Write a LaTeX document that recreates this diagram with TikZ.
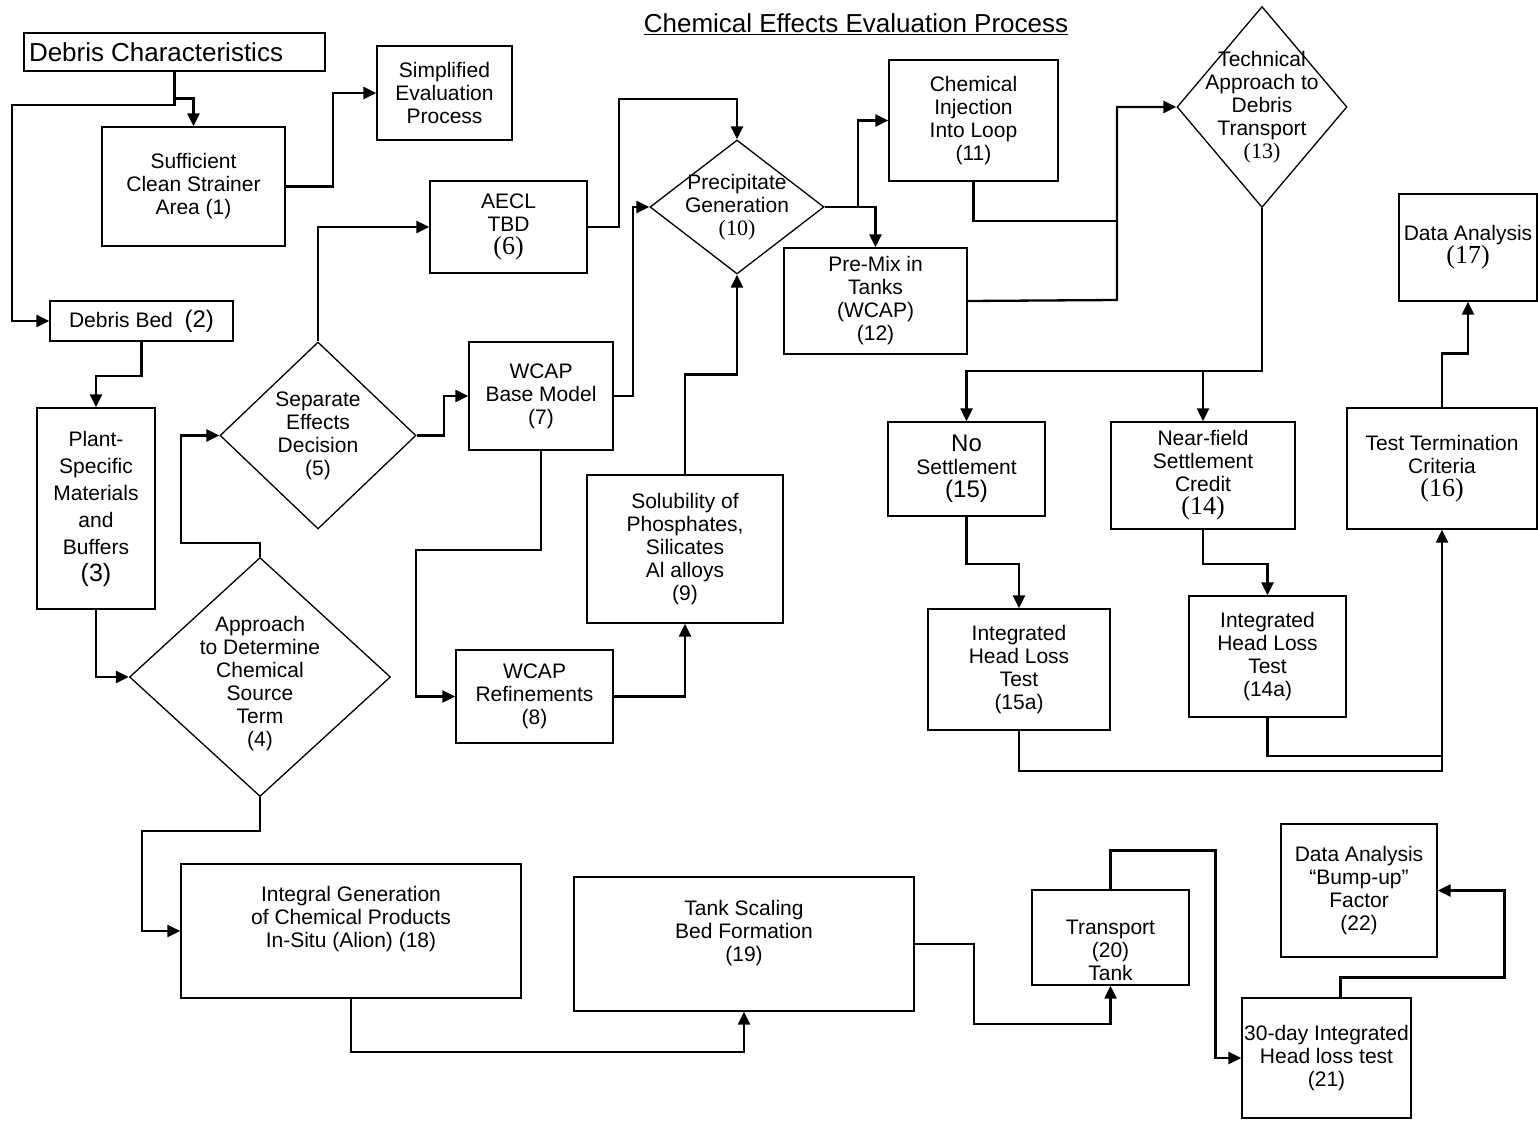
\documentclass[tikz,border=0pt]{standalone}
\usepackage{fontspec}
\setmainfont{Liberation Sans}
\newfontfamily\tnr{Liberation Serif}
\usetikzlibrary{shapes.geometric,arrows.meta}

\newcommand{\bnum}[1]{{\tnr\fontsize{26}{26}\selectfont #1}}
\newcommand{\snum}[1]{{\tnr\fontsize{22}{23}\selectfont #1}}

\begin{document}
\begin{tikzpicture}[x=1pt, y=-1pt,
    font=\fontsize{21}{23}\selectfont,
    >={Triangle[length=13pt,width=12pt]},
    box/.style={draw, line width=1.3pt, align=center, inner sep=1pt},
    dia/.style={draw, diamond, line width=1.3pt, inner sep=0pt},
    flow/.style={line width=2.3pt},
    txt/.style={align=center}]

    \useasboundingbox (0,0) rectangle (1538,1121);

    % Title
    \node (title) at (856,24) {\fontsize{26}{28}\selectfont\underline{Chemical Effects Evaluation Process}};

    % Debris side
    \node[box, minimum width=301, minimum height=38, text width=291, align=left] (char) at (174.5,52) {\fontsize{26}{28}\selectfont Debris Characteristics};
    \node[box, minimum width=183, minimum height=119] (clean) at (193.5,186.5) {Sufficient\\Clean Strainer\\Area (1)};
    \node[box, minimum width=135, minimum height=94] (simple) at (444.5,93) {Simplified\\Evaluation\\Process};
    \node[box, minimum width=183, minimum height=40] (bed) at (141.5,321) {Debris Bed\ \ {\fontsize{24}{24}\selectfont(2)}};
    \node[box, minimum width=118, minimum height=201, font=\fontsize{21}{27}\selectfont] (plant) at (96,508.5) {Plant-\\Specific\\Materials\\and\\Buffers\\{\fontsize{25}{31}\selectfont(3)}};

    % Decisions
    \node[dia, minimum width=261, minimum height=239, label={[txt,yshift=-7]center:Approach\\to Determine\\Chemical\\Source\\Term\\(4)}] (source) at (260,677) {};
    \node[dia, minimum width=196, minimum height=187, label={[txt]center:Separate\\Effects\\Decision\\(5)}] (sep) at (318,435.5) {};
    \node[dia, minimum width=174, minimum height=134, label={[txt]center:Precipitate\\Generation\\\snum{(10)}}] (precip) at (737,207) {};
    \node[dia, minimum width=170, minimum height=201, label={[txt]center:Technical\\Approach to\\Debris\\Transport\\\snum{(13)}}] (approach) at (1262,107) {};

    % Source term models
    \node[box, minimum width=157, minimum height=92] (aecl) at (508.5,227) {AECL\\TBD\\\bnum{(6)}};
    \node[box, minimum width=144, minimum height=108] (wbase) at (541,396) {WCAP\\Base Model\\(7)};
    \node[box, minimum width=157, minimum height=93] (wref) at (534.5,696.5) {WCAP\\Refinements\\(8)};
    \node[box, minimum width=196, minimum height=148] (solub) at (685,549) {Solubility of\\Phosphates,\\Silicates\\Al alloys\\(9)};

    % Chemicals and transport
    \node[box, minimum width=169, minimum height=121] (inject) at (973.5,120.5) {Chemical\\Injection\\Into Loop\\(11)};
    \node[box, minimum width=183, minimum height=106] (premix) at (875.5,301) {Pre-Mix in\\Tanks\\(WCAP)\\(12)};
    \node[box, minimum width=157, minimum height=94] (noset) at (966.5,469) {{\fontsize{24}{26}\selectfont No}\\Settlement\\{\fontsize{24}{26}\selectfont(15)}};
    \node[box, minimum width=184, minimum height=107] (nearf) at (1203,475.5) {Near-field\\Settlement\\Credit\\\bnum{(14)}};
    \node[box, minimum width=182, minimum height=121] (ihlno) at (1019,669.5) {Integrated\\Head Loss\\Test\\(15a)};
    \node[box, minimum width=157, minimum height=121] (ihlnear) at (1267.5,656.5) {Integrated\\Head Loss\\Test\\(14a)};
    \node[box, minimum width=190, minimum height=121] (term) at (1442,468.5) {Test Termination\\Criteria\\\bnum{(16)}};
    \node[box, minimum width=138, minimum height=107] (anal) at (1468,247.5) {Data Analysis\\\bnum{(17)}};

    % Integral tests
    \node[box, minimum width=340, minimum height=134, label={[txt,yshift=11.5]center:Integral Generation\\of Chemical Products\\In-Situ (Alion) (18)}] (insitu) at (351,931) {};
    \node[box, minimum width=340, minimum height=134, label={[txt,yshift=11]center:Tank Scaling\\Bed Formation\\(19)}] (scaling) at (744,944) {};
    \node[box, minimum width=157, minimum height=95, label={[txt,yshift=-13]center:Transport\\(20)\\Tank}] (tank) at (1110.5,937.5) {};
    \node[box, minimum width=169, minimum height=120] (thirty) at (1326.5,1058) {30-day Integrated\\Head loss test\\(21)};
    \node[box, minimum width=156, minimum height=133] (bump) at (1359,890.5) {Data Analysis\\“Bump-up”\\Factor\\(22)};

    % Connectors
    \coordinate (bus13) at (1117,300);
    \coordinate (bus16) at (1442,756);
    \draw[flow,->] (char.south) -- ++(0,27) -| (clean.north);
    \draw[flow,->] (char.south) |- (12,105) |- (bed.west);
    \draw[flow,->] (clean.east) -- ++(47,0) |- (simple.west);
    \draw[flow,->] (bed.south) -- ++(0,34) -| (plant.north);
    \draw[flow,->] (plant.south) |- (source.west);
    \draw[flow,->] (source.north) -- ++(0,-14) -- ++(-79,0) |- (sep.west);
    \draw[flow,->] (sep.north) |- (aecl.west);
    \draw[flow,->] (sep.east) -- ++(27,0) |- (wbase.west);
    \draw[flow,->] (aecl.east) -- ++(31,0) -- ++(0,-128) -| (precip.north);
    \draw[flow,->] (wbase.east) -- ++(19,0) |- (precip.west);
    \draw[flow,->] (wbase.south) -- ++(0,99) -- ++(-125,0) |- (wref.west);
    \draw[flow,->] (wref.east) -| (solub.south);
    \draw[flow,->] (solub.north) -- ++(0,-100) -| (precip.south);
    \draw[flow,->] (precip.east) -- ++(33,0) |- (inject.west);
    \draw[flow,->] (precip.east) -| (premix.north);
    \draw[flow] (inject.south) -- ++(0,39) -| (bus13);
    \draw[flow,->] (premix.east) -- (bus13) |- (approach.west);
    \draw[flow,->] (approach.south) -- ++(0,163) -| (noset.north);
    \draw[flow,->] (approach.south) -- ++(0,163) -| (nearf.north);
    \draw[flow,->] (noset.south) -- ++(0,47) -| (ihlno.north);
    \draw[flow,->] (nearf.south) -- ++(0,34) -| (ihlnear.north);
    \draw[flow,->] (ihlno.south) -- ++(0,40) -| (term.south);
    \draw[flow] (ihlnear.south) |- (bus16);
    \draw[flow,->] (term.north) -- ++(0,-54) -| (anal.south);
    \draw[flow,->] (source.south) -- ++(0,34) -- ++(-118,0) |- (insitu.west);
    \draw[flow,->] (insitu.south) -- ++(0,53) -| (scaling.south);
    \draw[flow,->] (scaling.east) -- ++(59,0) -- ++(0,80) -| (tank.south);
    \draw[flow,->] (tank.north) -- ++(0,-39) -- ++(105,0) |- (thirty.west);
    \draw[flow,->] ([xshift=14pt]thirty.north) -- ++(0,-20) -- ++(164,0) |- (bump.east);
\end{tikzpicture}
\end{document}
